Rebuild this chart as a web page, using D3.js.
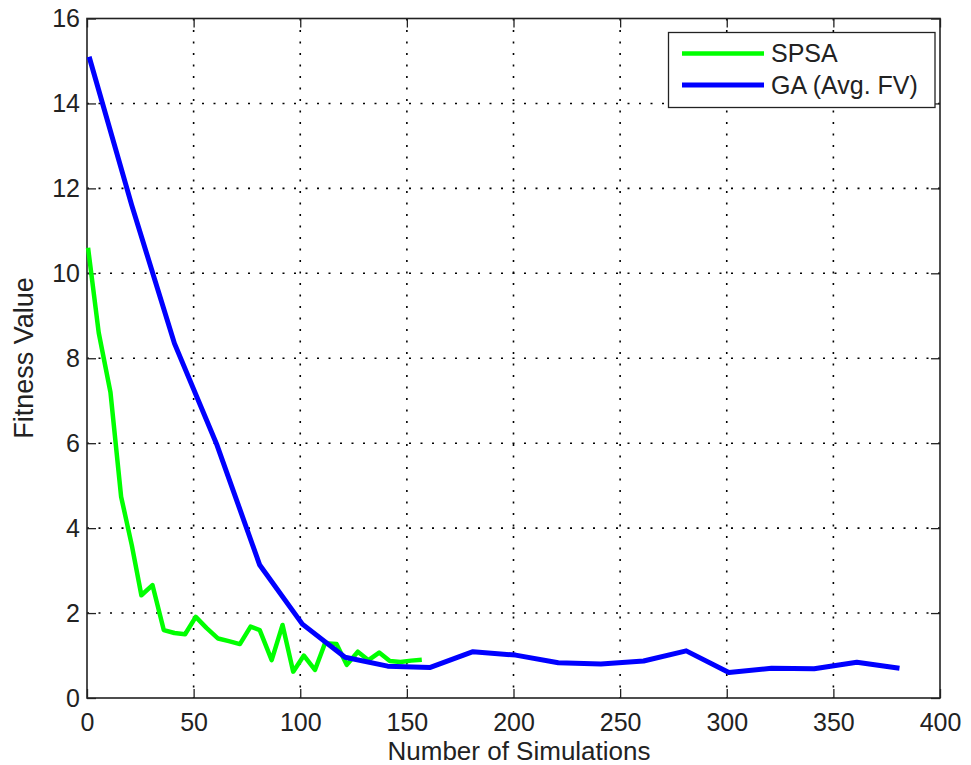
<!DOCTYPE html>
<html>
<head>
<meta charset="utf-8">
<script src="https://cdn.jsdelivr.net/npm/d3@7"></script>
<style>
  html, body { margin: 0; padding: 0; background: #fff; }
  svg { display: block; font-family: "Liberation Sans", Arial, sans-serif; }
</style>
</head>
<body>
<div id="chart"></div>
<script>
// SPSA (green)
const spsaX = [0.5, 5.5, 11, 16, 21, 25.5, 30.7, 36, 41, 46, 51, 56, 61.5, 66.5, 71.7, 76.7,
  81, 86.6, 91.7, 96.7, 101.7, 106.9, 111.6, 117, 121.8, 127, 132, 137, 142, 147, 152, 157];
const spsaY = [10.6, 8.6, 7.2, 4.74, 3.6, 2.42, 2.66, 1.6, 1.53, 1.5, 1.91, 1.65, 1.4, 1.34, 1.27, 1.68,
  1.6, 0.89, 1.72, 0.62, 1.0, 0.66, 1.29, 1.27, 0.78, 1.09, 0.89, 1.07, 0.87, 0.85, 0.88, 0.9];

// GA average fitness value (blue)
const gaX = [1, 21, 41, 61, 81, 101, 121, 141, 161, 181, 201, 221, 241, 261, 281, 301, 321, 341, 361, 381];
const gaY = [15.1, 11.6, 8.35, 5.95, 3.13, 1.74, 0.96, 0.75, 0.72, 1.09, 1.01, 0.83, 0.8, 0.87, 1.11, 0.6, 0.7, 0.69, 0.84, 0.7];

const xTicks = [0, 50, 100, 150, 200, 250, 300, 350, 400];
const yTicks = [0, 2, 4, 6, 8, 10, 12, 14, 16];
const legendLabels = ['SPSA', 'GA (Avg. FV)'];
const seriesColors = ['#00ff00', '#0000ff'];

const W = 971, H = 765;
const pL = 87, pR = 940, pT = 18.5, pB = 698;

const svg = d3.select('#chart').append('svg')
  .attr('width', W).attr('height', H);

const x = d3.scaleLinear().domain([0, 400]).range([pL, pR]);
const y = d3.scaleLinear().domain([0, 16]).range([pB, pT]);

const axisColor = '#222';

// grid
const gGrid = svg.append('g');
gGrid.selectAll('line.vg').data(xTicks.slice(1, -1)).join('line')
  .attr('x1', d => x(d)).attr('x2', d => x(d))
  .attr('y1', pT).attr('y2', pB)
  .attr('stroke', '#000').attr('stroke-width', 1.6)
  .attr('stroke-dasharray', '2,9.5');
gGrid.selectAll('line.hg').data(yTicks.slice(1, -1)).join('line')
  .attr('x1', pL).attr('x2', pR)
  .attr('y1', d => y(d)).attr('y2', d => y(d))
  .attr('stroke', '#000').attr('stroke-width', 1.6)
  .attr('stroke-dasharray', '2,9.5');

// axes (box with inward ticks on all sides)
const tickLen = 9;
svg.append('g').attr('transform', `translate(0,${pB})`)
  .call(d3.axisBottom(x).tickValues(xTicks).tickSize(-tickLen).tickPadding(15).tickSizeOuter(0))
  .call(g => g.select('.domain').remove());
svg.append('g').attr('transform', `translate(0,${pT})`)
  .call(d3.axisTop(x).tickValues(xTicks).tickSize(-tickLen).tickFormat('').tickSizeOuter(0))
  .call(g => g.select('.domain').remove());
svg.append('g').attr('transform', `translate(${pL},0)`)
  .call(d3.axisLeft(y).tickValues(yTicks).tickSize(-tickLen).tickPadding(7).tickSizeOuter(0))
  .call(g => g.select('.domain').remove());
svg.append('g').attr('transform', `translate(${pR},0)`)
  .call(d3.axisRight(y).tickValues(yTicks).tickSize(-tickLen).tickFormat('').tickSizeOuter(0))
  .call(g => g.select('.domain').remove());

svg.selectAll('.tick line').attr('stroke', axisColor).attr('stroke-width', 1.3);
svg.selectAll('.tick text')
  .attr('fill', axisColor)
  .style('font-size', '25px')
  .style('font-family', '"Liberation Sans", Arial, sans-serif');

svg.append('rect')
  .attr('x', pL).attr('y', pT)
  .attr('width', pR - pL).attr('height', pB - pT)
  .attr('fill', 'none').attr('stroke', axisColor).attr('stroke-width', 1.6);

// lines
const line = d3.line().x(d => x(d[0])).y(d => y(d[1]));
const spsa = spsaX.map((v, i) => [v, spsaY[i]]);
const ga = gaX.map((v, i) => [v, gaY[i]]);

svg.append('path').datum(spsa)
  .attr('d', line).attr('fill', 'none')
  .attr('stroke', seriesColors[0]).attr('stroke-width', 4.5)
  .attr('stroke-linejoin', 'round');
svg.append('path').datum(ga)
  .attr('d', line).attr('fill', 'none')
  .attr('stroke', seriesColors[1]).attr('stroke-width', 5)
  .attr('stroke-linejoin', 'round');

// axis labels
svg.append('text')
  .attr('x', 519).attr('y', 760)
  .attr('text-anchor', 'middle')
  .attr('fill', axisColor)
  .style('font-size', '26px')
  .text('Number of Simulations');
svg.append('text')
  .attr('transform', `translate(33,358) rotate(-90)`)
  .attr('text-anchor', 'middle')
  .attr('fill', axisColor)
  .style('font-size', '27px')
  .text('Fitness Value');

// legend
const lg = svg.append('g');
lg.append('rect')
  .attr('x', 668.5).attr('y', 32.5).attr('width', 266.5).attr('height', 75)
  .attr('fill', '#fff').attr('stroke', axisColor).attr('stroke-width', 1.3);
legendLabels.forEach((lab, i) => {
  const cy = 53.5 + i * 31.5;
  lg.append('line')
    .attr('x1', 682).attr('x2', 764).attr('y1', cy).attr('y2', cy)
    .attr('stroke', seriesColors[i]).attr('stroke-width', i === 0 ? 4.5 : 5);
  lg.append('text')
    .attr('x', 771).attr('y', cy + 8.5)
    .attr('fill', axisColor)
    .style('font-size', '25px')
    .text(lab);
});
</script>
</body>
</html>
